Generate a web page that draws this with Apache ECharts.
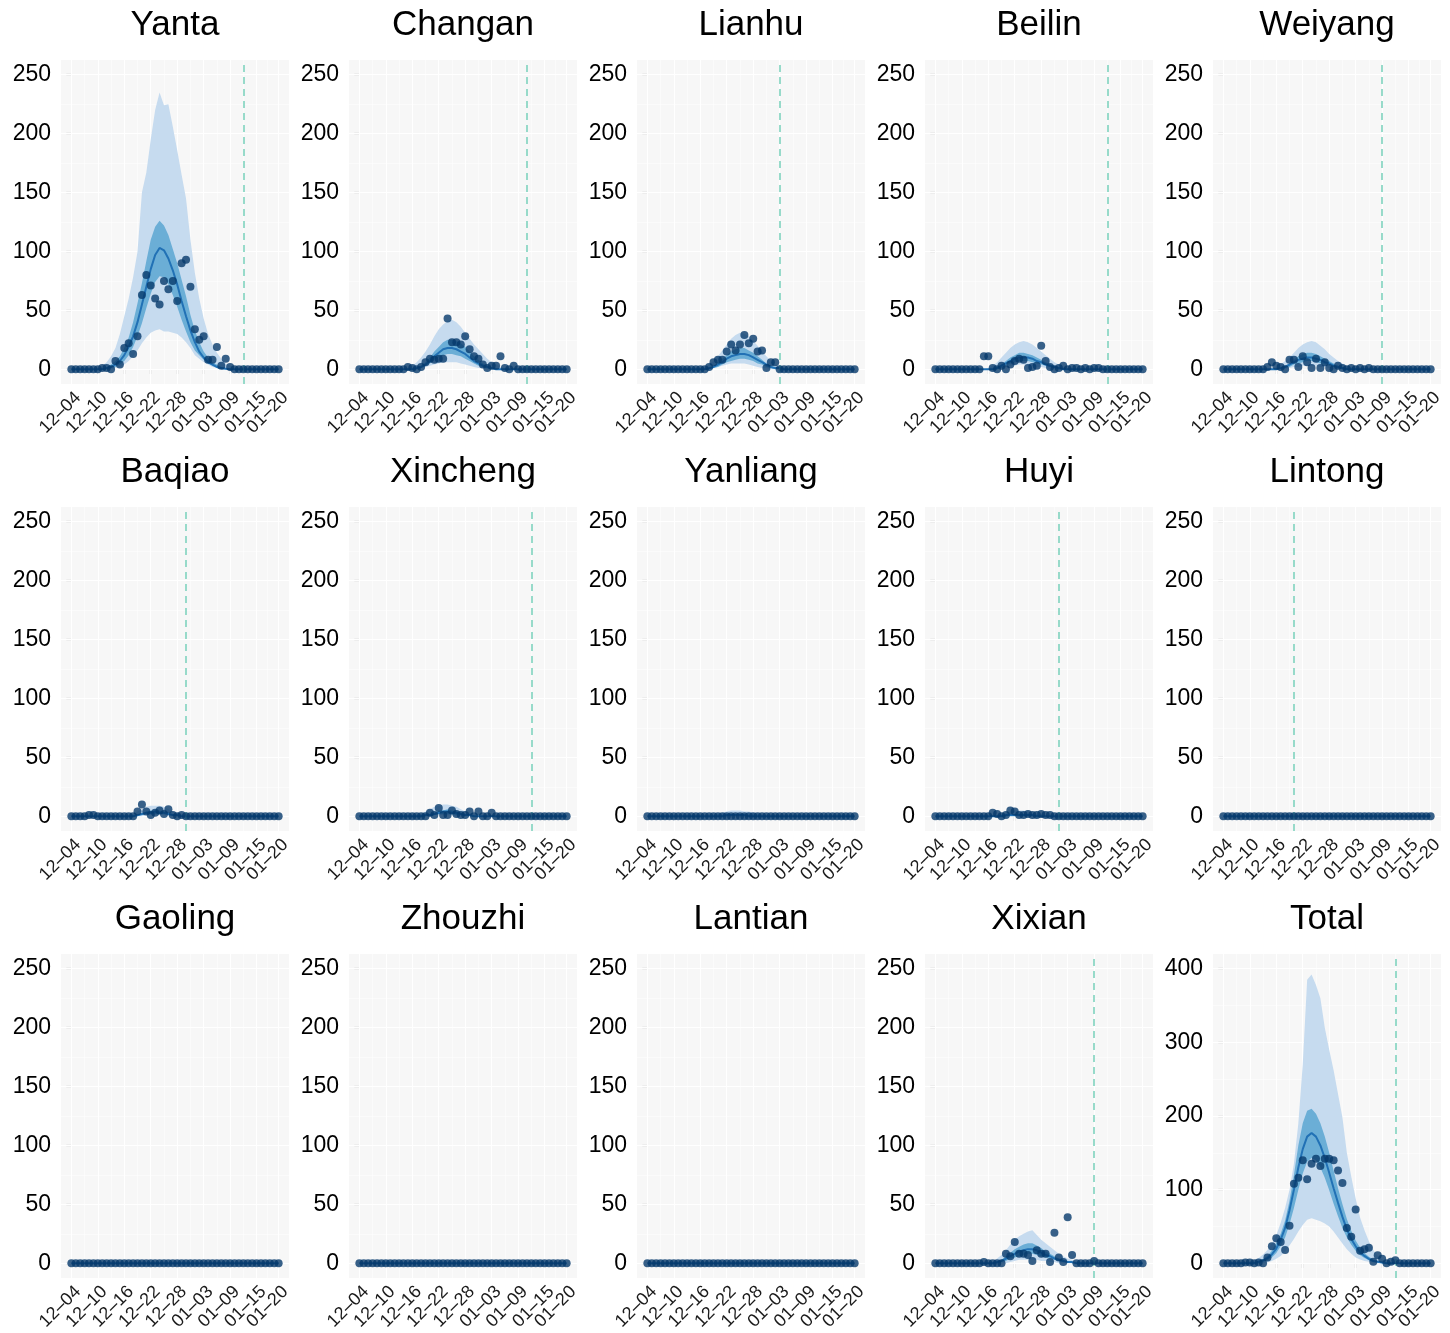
<!DOCTYPE html>
<html>
<head>
<meta charset="utf-8">
<script src="https://cdn.jsdelivr.net/npm/echarts@6/dist/echarts.min.js"></script>
<style>
  html, body { margin: 0; padding: 0; background: #ffffff; }
  #chart { width: 1450px; height: 1333px; }
</style>
</head>
<body>
<div id="chart"></div>
<script>
// Daily reported cases (dots) and model fit (median line, 50% and 95% bands),
// one panel per district of Xi'an, 4 Dec to 20 Jan (48 days, index 0 = 12-04).

const tickDays = [0, 6, 12, 18, 24, 30, 36, 42, 47];
const tickLabels = ['12–04', '12–10', '12–16', '12–22', '12–28', '01–03', '01–09', '01–15', '01–20'];

const districtNames = ['Yanta', 'Changan', 'Lianhu', 'Beilin', 'Weiyang',
  'Baqiao', 'Xincheng', 'Yanliang', 'Huyi', 'Lintong',
  'Gaoling', 'Zhouzhi', 'Lantian', 'Xixian', 'Total'];

// day index of the dashed reference line per district (null = none)
const cutoffDays = [39, 38, 30, 39, 36, 26, 39, null, 28, 16, null, null, null, 36, 39];

const zeroSeries = [0,0,0,0,0,0, 0,0,0,0,0,0, 0,0,0,0,0,0, 0,0,0,0,0,0, 0,0,0,0,0,0, 0,0,0,0,0,0, 0,0,0,0,0,0, 0,0,0,0,0,0];

// ---- Yanta ----
const yantaCases  = [0,0,0,0,0,0, 0,1,1,0,7,4, 18,22,13,28,63,80, 71,60,55,75,68,75, 58,90,93,70,34,25, 28,8,8,19,3,9, 2,0,0,0,0,0, 0,0,0,0,0,0];
const yantaMedian = [0,0,0,0,0,0, 0,0,1,2,4,7, 12,19,28,40,55,70, 85,97,103,101,94,84, 72,58,45,33,23,15, 10,6,4,2,1,0.5, 0,0,0,0,0,0, 0,0,0,0,0,0];
const yantaLo50   = [0,0,0,0,0,0, 0,0,0,1,2,4, 7,12,19,28,39,52, 64,74,79,78,72,63, 53,42,32,23,16,12, 8,5,3,1,0,0, 0,0,0,0,0,0, 0,0,0,0,0,0];
const yantaHi50   = [0,0,0,0,0,0, 0,1,2,4,7,11, 18,27,40,56,73,92, 110,121,126,122,114,102, 90,76,62,46,33,23, 15,10,6,4,2,1, 0,0,0,0,0,0, 0,0,0,0,0,0];
const yantaLo95   = [0,0,0,0,0,0, 0,0,0,0,1,2, 4,7,11,16,22,27, 31,33,34,32,32,31, 30,27,23,18,12,9, 6,4,2,1,0,0, 0,0,0,0,0,0, 0,0,0,0,0,0];
const yantaHi95   = [0,0,0,0,0,0.5, 1.5,3,6,11,18,30, 45,60,78,100,150,167, 195,220,235,224,225,206, 186,165,145,110,82,60, 43,30,21,14,9,5, 3,1.5,0.5,0,0,0, 0,0,0,0,0,0];

// ---- Changan ----
const changanCases  = [0,0,0,0,0,0, 0,0,0,0,0,2, 1,0,2,6,9,8, 9,9,43,23,23,21, 28,17,11,9,4,1, 3,3,11,1,0,3, 0,0,0,0,0,0, 0,0,0,0,0,0];
const changanMedian = [0,0,0,0,0,0, 0,0,0,0,0,0, 0,1,2,4,7,11, 14,17,18,18,17,15, 13,10,7,5,3,2, 1,0,0,0,0,0, 0,0,0,0,0,0, 0,0,0,0,0,0];
const changanLo50   = [0,0,0,0,0,0, 0,0,0,0,0,0, 0,0,1,3,5,8, 10,12,13,13,12,11, 9,7,5,3,2,1, 0,0,0,0,0,0, 0,0,0,0,0,0, 0,0,0,0,0,0];
const changanHi50   = [0,0,0,0,0,0, 0,0,0,0,0,0, 0,1,3,6,10,15, 19,23,25,25,24,22, 19,15,11,8,5,3, 2,1,0,0,0,0, 0,0,0,0,0,0, 0,0,0,0,0,0];
const changanLo95   = [0,0,0,0,0,0, 0,0,0,0,0,0, 0,0,1,2,3,4, 5,6,6,6,6,5, 4,3,2,1,1,0, 0,0,0,0,0,0, 0,0,0,0,0,0, 0,0,0,0,0,0];
const changanHi95   = [0,0,0,0,0,0, 0,0,0,0,0,1, 3,6,10,15,21,28, 34,38,41,42,40,36, 31,26,21,17,13,9, 6,4,2,1,0,0, 0,0,0,0,0,0, 0,0,0,0,0,0];

// ---- Lianhu ----
const lianhuCases  = [0,0,0,0,0,0, 0,0,0,0,0,0, 0,0,2,6,8,8, 15,21,16,21,29,22, 26,15,16,1,6,6, 0,0,0,0,0,0, 0,0,0,0,0,0, 0,0,0,0,0,0];
const lianhuMedian = [0,0,0,0,0,0, 0,0,0,0,0,0, 0,0,1,2,4,6, 9,11,12,13,13,12, 10,8,6,4,2,1, 1,0,0,0,0,0, 0,0,0,0,0,0, 0,0,0,0,0,0];
const lianhuLo50   = [0,0,0,0,0,0, 0,0,0,0,0,0, 0,0,0,1,2,4, 6,7,8,9,9,8, 7,5,4,2,1,0, 0,0,0,0,0,0, 0,0,0,0,0,0, 0,0,0,0,0,0];
const lianhuHi50   = [0,0,0,0,0,0, 0,0,0,0,0,0, 0,0,1,3,6,9, 12,15,17,18,18,16, 14,11,8,5,3,2, 1,0,0,0,0,0, 0,0,0,0,0,0, 0,0,0,0,0,0];
const lianhuLo95   = [0,0,0,0,0,0, 0,0,0,0,0,0, 0,0,0,1,2,3, 4,5,5,5,5,4, 3,2,1,1,0,0, 0,0,0,0,0,0, 0,0,0,0,0,0, 0,0,0,0,0,0];
const lianhuHi95   = [0,0,0,0,0,0, 0,0,0,0,0,0, 1,2,4,7,11,16, 21,26,29,31,30,28, 24,20,15,11,7,4, 2,1,0,0,0,0, 0,0,0,0,0,0, 0,0,0,0,0,0];

// ---- Beilin ----
const beilinCases  = [0,0,0,0,0,0, 0,0,0,0,0,11, 11,1,0,3,0,4, 7,9,8,1,2,3, 20,7,2,0,1,3, 0,1,1,0,1,0, 1,1,0,0,0,0, 0,0,0,0,0,0];
const beilinMedian = [0,0,0,0,0,0, 0,0,0,0,0,0, 0,0,1,3,5,7, 9,10,10,10,9,7, 6,4,3,2,1,0, 0,0,0,0,0,0, 0,0,0,0,0,0, 0,0,0,0,0,0];
const beilinLo50   = [0,0,0,0,0,0, 0,0,0,0,0,0, 0,0,0,1,3,5, 6,7,7,7,6,5, 4,3,2,1,0,0, 0,0,0,0,0,0, 0,0,0,0,0,0, 0,0,0,0,0,0];
const beilinHi50   = [0,0,0,0,0,0, 0,0,0,0,0,0, 0,0,2,4,7,10, 12,14,14,13,12,10, 8,6,4,3,2,1, 0,0,0,0,0,0, 0,0,0,0,0,0, 0,0,0,0,0,0];
const beilinLo95   = [0,0,0,0,0,0, 0,0,0,0,0,0, 0,0,0,1,2,3, 3,4,4,3,3,2, 2,1,0,0,0,0, 0,0,0,0,0,0, 0,0,0,0,0,0, 0,0,0,0,0,0];
const beilinHi95   = [0,0,0,0,0,0, 0,0,0,0,0,0, 1,3,6,10,14,18, 21,23,24,23,21,18, 15,12,9,6,4,2, 1,0,0,0,0,0, 0,0,0,0,0,0, 0,0,0,0,0,0];

// ---- Weiyang ----
const weiyangCases  = [0,0,0,0,0,0, 0,0,0,0,2,6, 3,2,0,8,8,2, 11,6,1,9,1,6, 1,0,3,1,0,1, 0,1,0,1,0,0, 0,0,0,0,0,0, 0,0,0,0,0,0];
const weiyangMedian = [0,0,0,0,0,0, 0,0,0,0,0,0, 0,1,2,4,6,8, 9,10,10,9,8,6, 5,3,2,1,0,0, 0,0,0,0,0,0, 0,0,0,0,0,0, 0,0,0,0,0,0];
const weiyangLo50   = [0,0,0,0,0,0, 0,0,0,0,0,0, 0,0,1,2,4,5, 6,7,7,6,5,4, 3,2,1,0,0,0, 0,0,0,0,0,0, 0,0,0,0,0,0, 0,0,0,0,0,0];
const weiyangHi50   = [0,0,0,0,0,0, 0,0,0,0,0,0, 0,1,3,5,8,11, 13,14,14,13,11,9, 7,5,3,2,1,0, 0,0,0,0,0,0, 0,0,0,0,0,0, 0,0,0,0,0,0];
const weiyangLo95   = [0,0,0,0,0,0, 0,0,0,0,0,0, 0,0,0,1,2,2, 3,3,3,3,2,2, 1,0,0,0,0,0, 0,0,0,0,0,0, 0,0,0,0,0,0, 0,0,0,0,0,0];
const weiyangHi95   = [0,0,0,0,0,0, 0,0,0,0,0,1, 2,4,7,10,14,18, 21,23,24,23,20,17, 13,10,7,5,3,2, 1,0,0,0,0,0, 0,0,0,0,0,0, 0,0,0,0,0,0];

// ---- Baqiao ----
const baqiaoCases  = [0,0,0,0,1,1, 0,0,0,0,0,0, 0,0,0,4,10,4, 1,3,5,2,6,1, 0,1,0,0,0,0, 0,0,0,0,0,0, 0,0,0,0,0,0, 0,0,0,0,0,0];
const baqiaoMedian = [0,0,0,0,0,0, 0,0,0,0,0,0, 0,0,0,1,2,3, 3,4,3,3,2,1, 1,0,0,0,0,0, 0,0,0,0,0,0, 0,0,0,0,0,0, 0,0,0,0,0,0];
const baqiaoLo50   = [0,0,0,0,0,0, 0,0,0,0,0,0, 0,0,0,0,1,2, 2,2,2,2,1,1, 0,0,0,0,0,0, 0,0,0,0,0,0, 0,0,0,0,0,0, 0,0,0,0,0,0];
const baqiaoHi50   = [0,0,0,0,0,0, 0,0,0,0,0,0, 0,0,0,1,2,4, 5,5,5,4,3,2, 1,0,0,0,0,0, 0,0,0,0,0,0, 0,0,0,0,0,0, 0,0,0,0,0,0];
const baqiaoLo95   = [0,0,0,0,0,0, 0,0,0,0,0,0, 0,0,0,0,0,1, 1,1,1,1,0,0, 0,0,0,0,0,0, 0,0,0,0,0,0, 0,0,0,0,0,0, 0,0,0,0,0,0];
const baqiaoHi95   = [0,0,0,0,0,0, 0,0,0,0,0,0, 0,1,2,4,6,8, 9,9,9,8,6,4, 3,2,1,0,0,0, 0,0,0,0,0,0, 0,0,0,0,0,0, 0,0,0,0,0,0];

// ---- Xincheng ----
const xinchengCases  = [0,0,0,0,0,0, 0,0,0,0,0,0, 0,0,0,0,3,1, 7,1,1,5,2,1, 1,4,0,4,0,0, 3,0,0,0,0,0, 0,0,0,0,0,0, 0,0,0,0,0,0];
const xinchengMedian = [0,0,0,0,0,0, 0,0,0,0,0,0, 0,0,0,1,1,2, 3,4,4,3,3,2, 1,1,0,0,0,0, 0,0,0,0,0,0, 0,0,0,0,0,0, 0,0,0,0,0,0];
const xinchengLo50   = [0,0,0,0,0,0, 0,0,0,0,0,0, 0,0,0,0,0,1, 2,2,2,2,1,1, 0,0,0,0,0,0, 0,0,0,0,0,0, 0,0,0,0,0,0, 0,0,0,0,0,0];
const xinchengHi50   = [0,0,0,0,0,0, 0,0,0,0,0,0, 0,0,0,1,2,3, 5,5,6,5,4,3, 2,1,0,0,0,0, 0,0,0,0,0,0, 0,0,0,0,0,0, 0,0,0,0,0,0];
const xinchengLo95   = [0,0,0,0,0,0, 0,0,0,0,0,0, 0,0,0,0,0,1, 1,1,1,1,0,0, 0,0,0,0,0,0, 0,0,0,0,0,0, 0,0,0,0,0,0, 0,0,0,0,0,0];
const xinchengHi95   = [0,0,0,0,0,0, 0,0,0,0,0,0, 0,1,2,4,6,8, 9,10,10,9,8,6, 4,3,2,1,0,0, 0,0,0,0,0,0, 0,0,0,0,0,0, 0,0,0,0,0,0];

// ---- Yanliang ----
const yanliangCases  = zeroSeries;
const yanliangMedian = [0,0,0,0,0,0, 0,0,0,0,0,0, 0,0,0,0,0,0, 1,1,1,1,1,0, 0,0,0,0,0,0, 0,0,0,0,0,0, 0,0,0,0,0,0, 0,0,0,0,0,0];
const yanliangLo50   = zeroSeries;
const yanliangHi50   = [0,0,0,0,0,0, 0,0,0,0,0,0, 0,0,0,0,0,1, 1,2,2,2,1,1, 0,0,0,0,0,0, 0,0,0,0,0,0, 0,0,0,0,0,0, 0,0,0,0,0,0];
const yanliangLo95   = zeroSeries;
const yanliangHi95   = [0,0,0,0,0,0, 0,0,0,0,0,0, 0,0,0,1,2,3, 4,5,5,5,4,4, 3,2,1,1,0,0, 0,0,0,0,0,0, 0,0,0,0,0,0, 0,0,0,0,0,0];

// ---- Huyi ----
const huyiCases  = [0,0,0,0,0,0, 0,0,0,0,0,0, 0,3,2,0,1,5, 4,1,1,2,1,1, 2,1,1,0,0,0, 0,0,0,0,0,0, 0,0,0,0,0,0, 0,0,0,0,0,0];
const huyiMedian = [0,0,0,0,0,0, 0,0,0,0,0,0, 0,0,0,0,1,1, 1,1,1,1,1,0, 0,0,0,0,0,0, 0,0,0,0,0,0, 0,0,0,0,0,0, 0,0,0,0,0,0];
const huyiLo50   = zeroSeries;
const huyiHi50   = [0,0,0,0,0,0, 0,0,0,0,0,0, 0,0,0,1,1,2, 2,2,2,2,1,1, 0,0,0,0,0,0, 0,0,0,0,0,0, 0,0,0,0,0,0, 0,0,0,0,0,0];
const huyiLo95   = zeroSeries;
const huyiHi95   = [0,0,0,0,0,0, 0,0,0,0,0,0, 0,0,1,2,3,4, 5,5,5,4,3,2, 2,1,0,0,0,0, 0,0,0,0,0,0, 0,0,0,0,0,0, 0,0,0,0,0,0];

// ---- Lintong, Gaoling, Zhouzhi, Lantian: no cases ----
const lintongCases = zeroSeries;
const gaolingCases = zeroSeries;
const zhouzhiCases = zeroSeries;
const lantianCases = zeroSeries;

// ---- Xixian ----
const xixianCases  = [0,0,0,0,0,0, 0,0,0,0,0,1, 0,0,0,0,8,6, 18,8,8,7,2,11, 8,8,1,26,5,1, 39,7,0,0,0,0, 2,0,0,0,0,0, 0,0,0,0,0,0];
const xixianMedian = [0,0,0,0,0,0, 0,0,0,0,0,0, 0,0,1,2,4,6, 8,10,11,12,12,11, 9,7,6,4,3,2, 1,1,0,0,0,0, 0,0,0,0,0,0, 0,0,0,0,0,0];
const xixianLo50   = [0,0,0,0,0,0, 0,0,0,0,0,0, 0,0,0,1,2,4, 5,6,7,8,8,7, 6,5,4,3,2,1, 1,0,0,0,0,0, 0,0,0,0,0,0, 0,0,0,0,0,0];
const xixianHi50   = [0,0,0,0,0,0, 0,0,0,0,0,0, 0,0,1,3,6,9, 12,14,16,17,17,15, 13,10,8,6,4,3, 2,1,0,0,0,0, 0,0,0,0,0,0, 0,0,0,0,0,0];
const xixianLo95   = [0,0,0,0,0,0, 0,0,0,0,0,0, 0,0,0,0,0,1, 2,3,3,3,3,3, 2,2,1,1,0,0, 0,0,0,0,0,0, 0,0,0,0,0,0, 0,0,0,0,0,0];
const xixianHi95   = [0,0,0,0,0,0, 0,0,0,0,0,0, 0,1,4,7,11,16, 20,23,25,27,28,24, 20,17,14,11,8,6, 4,3,2,1,0,0, 0,0,0,0,0,0, 0,0,0,0,0,0];

// ---- Total ----
const totalCases  = [0,0,0,0,0,1, 1,0,1,0,8,23, 34,29,18,51,108,116, 140,114,135,142,132,142, 142,140,126,109,48,36, 73,17,19,21,2,11, 6,0,2,4,0,0, 0,0,0,0,0,0];
const totalMedian = [0,0,0,0,0,0, 0,0,2,4,7,12, 20,32,48,72,100,130, 155,172,177,172,160,143, 123,102,82,63,46,33, 23,15,10,6,3,2, 1,0,0,0,0,0, 0,0,0,0,0,0];
const totalLo50   = [0,0,0,0,0,0, 0,0,0,2,4,8, 14,23,35,53,75,100, 122,138,143,140,130,116, 99,81,64,48,35,25, 17,11,7,4,2,1, 0,0,0,0,0,0, 0,0,0,0,0,0];
const totalHi50   = [0,0,0,0,0,0, 0,1,3,6,10,17, 28,40,58,85,120,160, 190,207,210,203,190,172, 150,126,102,80,60,44, 31,21,14,9,5,3, 1,0,0,0,0,0, 0,0,0,0,0,0];
const totalLo95   = [0,0,0,0,0,0, 0,0,0,0,1,3, 6,10,16,24,33,43, 52,59,61,59,57,54, 50,43,35,27,19,13, 8,5,3,2,1,0, 0,0,0,0,0,0, 0,0,0,0,0,0];
const totalHi95   = [0,0,0,0,0,1, 2,4,7,12,18,27, 38,55,75,100,135,190, 270,385,392,378,360,320, 290,262,230,198,150,118, 88,62,45,30,18,10, 5,2,1,0,0,0, 0,0,0,0,0,0];

// y-axis scales: districts share one, the total has its own
const districtYTicks = [0, 50, 100, 150, 200, 250];
const districtYMinor = [25, 75, 125, 175, 225];
const totalYTicks = [0, 100, 200, 300, 400];
const totalYMinor = [50, 150, 250, 350];
const xMinorDays = [3, 9, 15, 21, 27, 33, 39, 44.5];

const panels = [
  { cases: yantaCases, median: yantaMedian, lo50: yantaLo50, hi50: yantaHi50, lo95: yantaLo95, hi95: yantaHi95 },
  { cases: changanCases, median: changanMedian, lo50: changanLo50, hi50: changanHi50, lo95: changanLo95, hi95: changanHi95 },
  { cases: lianhuCases, median: lianhuMedian, lo50: lianhuLo50, hi50: lianhuHi50, lo95: lianhuLo95, hi95: lianhuHi95 },
  { cases: beilinCases, median: beilinMedian, lo50: beilinLo50, hi50: beilinHi50, lo95: beilinLo95, hi95: beilinHi95 },
  { cases: weiyangCases, median: weiyangMedian, lo50: weiyangLo50, hi50: weiyangHi50, lo95: weiyangLo95, hi95: weiyangHi95 },
  { cases: baqiaoCases, median: baqiaoMedian, lo50: baqiaoLo50, hi50: baqiaoHi50, lo95: baqiaoLo95, hi95: baqiaoHi95 },
  { cases: xinchengCases, median: xinchengMedian, lo50: xinchengLo50, hi50: xinchengHi50, lo95: xinchengLo95, hi95: xinchengHi95 },
  { cases: yanliangCases, median: yanliangMedian, lo50: yanliangLo50, hi50: yanliangHi50, lo95: yanliangLo95, hi95: yanliangHi95 },
  { cases: huyiCases, median: huyiMedian, lo50: huyiLo50, hi50: huyiHi50, lo95: huyiLo95, hi95: huyiHi95 },
  { cases: lintongCases, median: zeroSeries, lo50: zeroSeries, hi50: zeroSeries, lo95: zeroSeries, hi95: zeroSeries },
  { cases: gaolingCases, median: zeroSeries, lo50: zeroSeries, hi50: zeroSeries, lo95: zeroSeries, hi95: zeroSeries },
  { cases: zhouzhiCases, median: zeroSeries, lo50: zeroSeries, hi50: zeroSeries, lo95: zeroSeries, hi95: zeroSeries },
  { cases: lantianCases, median: zeroSeries, lo50: zeroSeries, hi50: zeroSeries, lo95: zeroSeries, hi95: zeroSeries },
  { cases: xixianCases, median: xixianMedian, lo50: xixianLo50, hi50: xixianHi50, lo95: xixianLo95, hi95: xixianHi95 },
  { cases: totalCases, median: totalMedian, lo50: totalLo50, hi50: totalHi50, lo95: totalLo95, hi95: totalHi95 }
];

// ---- layout ----
const FONT = '"Liberation Sans", Arial, Helvetica, sans-serif';
const PANEL_LEFT = 61, PANEL_STEP_X = 288, PANEL_W = 228;
const PANEL_TOP = 60, PANEL_STEP_Y = 447, PANEL_H = 324;
const X_MIN = -0.05 * 47, X_MAX = 47 * 1.05;
// rotated date labels hang to the right of their tick (label anchored by its top-right corner)
const LABEL_SHIFT_DAYS = 1.5;
const COLORS = {
  panel: '#f7f7f7', grid: '#ffffff',
  band95: '#c6dbef', band50: '#6baed6', median: '#2171b5',
  dots: '#063a6c', cutoff: '#7fd3be', text: '#000000', tick: '#333333'
};

const chart = echarts.init(document.getElementById('chart'), null, { renderer: 'canvas' });

const grids = [], xAxes = [], yAxes = [], series = [], titles = [];

// a shaded ribbon between two bounds, drawn as one polygon in data coordinates
function ribbon(xIndex, yIndex, lo, hi, color, z) {
  return {
    type: 'custom', xAxisIndex: xIndex, yAxisIndex: yIndex,
    silent: true, z: z, animation: false, clip: true,
    data: lo.map((v, d) => [d, v, hi[d]]),
    encode: { x: 0, y: [1, 2] },
    renderItem: (params, api) => {
      if (params.dataIndex !== 0) return null;
      const upper = hi.map((v, d) => api.coord([d, v]));
      const lower = lo.map((v, d) => api.coord([d, v])).reverse();
      return {
        type: 'polygon',
        shape: { points: upper.concat(lower) },
        style: { fill: color, stroke: null }
      };
    }
  };
}

// date-label axis (labels only); the last date sits on its own axis so the
// close pair 01-15 / 01-20 are both kept
function dateLabelAxis(gridIndex, days) {
  return {
    gridIndex: gridIndex, type: 'value', position: 'bottom',
    min: X_MIN - LABEL_SHIFT_DAYS, max: X_MAX - LABEL_SHIFT_DAYS,
    axisLine: { show: false }, axisTick: { show: false }, splitLine: { show: false },
    axisLabel: {
      customValues: days, rotate: 45, margin: 11,
      showMinLabel: true, showMaxLabel: true, hideOverlap: false,
      fontSize: 18, color: '#1a1a1a', fontFamily: FONT,
      formatter: v => tickLabels[tickDays.indexOf(v)]
    }
  };
}

panels.forEach((p, i) => {
  const col = i % 5, row = Math.floor(i / 5);
  const isTotal = i === panels.length - 1;
  const yTicks = isTotal ? totalYTicks : districtYTicks;
  const yMinor = isTotal ? totalYMinor : districtYMinor;
  const left = PANEL_LEFT + col * PANEL_STEP_X;
  const top = PANEL_TOP + row * PANEL_STEP_Y;
  const yTop = yTicks[yTicks.length - 1];
  const xi = xAxes.length;

  grids.push({
    left: left, top: top, width: PANEL_W, height: PANEL_H,
    show: true, backgroundColor: COLORS.panel, borderWidth: 0
  });

  // main x axis: scale + tick marks
  xAxes.push({
    gridIndex: i, type: 'value', position: 'bottom',
    min: X_MIN, max: X_MAX,
    axisLine: { show: false },
    axisTick: { show: true, length: 5, customValues: tickDays, lineStyle: { color: COLORS.tick, width: 1.1 } },
    axisLabel: { show: false },
    splitLine: { show: false }
  });
  xAxes.push(dateLabelAxis(i, tickDays.slice(0, -1)));
  xAxes.push(dateLabelAxis(i, tickDays.slice(-1)));

  yAxes.push({
    gridIndex: i, type: 'value',
    min: -0.05 * yTop, max: yTop * 1.05,
    axisLine: { show: false },
    axisTick: { show: true, length: 5, customValues: yTicks, lineStyle: { color: COLORS.tick, width: 1.1 } },
    axisLabel: { customValues: yTicks, margin: 10, fontSize: 23, color: COLORS.text, fontFamily: FONT,
      showMinLabel: true, showMaxLabel: true, hideOverlap: false },
    splitLine: { show: false }
  });

  // white panel grid lines (major and minor)
  const gridLines = []
    .concat(yTicks.map(v => ({ yAxis: v, lineStyle: { width: 1.1 } })))
    .concat(yMinor.map(v => ({ yAxis: v, lineStyle: { width: 0.55 } })))
    .concat(tickDays.map(v => ({ xAxis: v, lineStyle: { width: 1.1 } })))
    .concat(xMinorDays.map(v => ({ xAxis: v, lineStyle: { width: 0.55 } })));

  const pts = arr => arr.map((v, d) => [d, v]);

  series.push(ribbon(xi, i, p.lo95, p.hi95, COLORS.band95, 10));
  series.push(ribbon(xi, i, p.lo50, p.hi50, COLORS.band50, 11));

  // median fit, carrying the panel grid lines underneath everything
  series.push({
    type: 'line', xAxisIndex: xi, yAxisIndex: i, silent: true,
    data: pts(p.median), symbol: 'none', z: 12, animation: false,
    lineStyle: { color: COLORS.median, width: 2 },
    markLine: {
      silent: true, z: 1, symbol: ['none', 'none'], label: { show: false }, animation: false,
      lineStyle: { color: COLORS.grid, type: 'solid' }, emphasis: { disabled: true },
      data: gridLines
    }
  });

  // reported cases, with the dashed reference date
  const caseSeries = {
    type: 'scatter', xAxisIndex: xi, yAxisIndex: i, silent: true,
    data: pts(p.cases), symbol: 'circle', symbolSize: 8, z: 14, animation: false,
    itemStyle: { color: COLORS.dots }
  };
  if (cutoffDays[i] !== null) {
    caseSeries.markLine = {
      silent: true, z: 13, symbol: ['none', 'none'], label: { show: false }, animation: false,
      emphasis: { disabled: true },
      lineStyle: { color: COLORS.cutoff, width: 1.6, type: [7, 5] },
      data: [{ xAxis: cutoffDays[i] }]
    };
  }
  series.push(caseSeries);

  titles.push({
    type: 'text',
    x: left + PANEL_W / 2, y: top - 35,
    style: {
      text: districtNames[i], fill: COLORS.text,
      font: '35px ' + FONT,
      textAlign: 'center', textVerticalAlign: 'middle',
      align: 'center', verticalAlign: 'middle'
    }
  });
});

chart.setOption({
  animation: false,
  backgroundColor: '#ffffff',
  textStyle: { fontFamily: FONT },
  grid: grids,
  xAxis: xAxes,
  yAxis: yAxes,
  series: series,
  graphic: titles
});
</script>
</body>
</html>
